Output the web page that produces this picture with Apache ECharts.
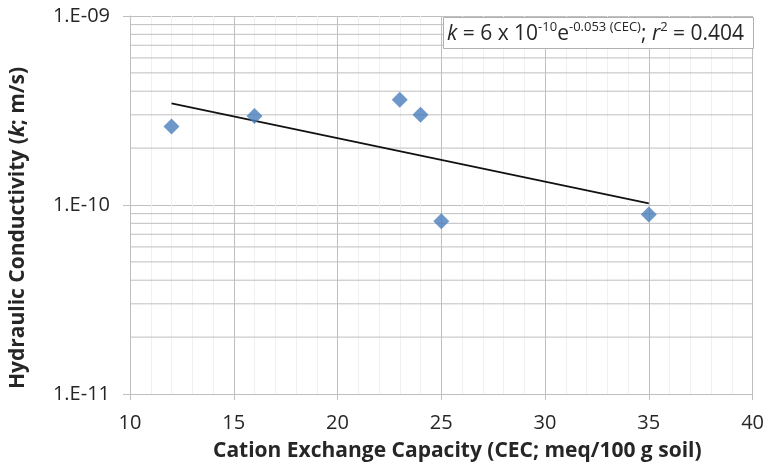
<!DOCTYPE html>
<html>
<head>
<meta charset="utf-8">
<script src="https://cdn.jsdelivr.net/npm/echarts@6/dist/echarts.min.js"></script>
<style>html,body{margin:0;padding:0;background:#fff}#c{width:767px;height:471px}</style>
</head>
<body>
<div id="c"></div>
<script>
var cecValues = [12, 16, 23, 24, 25, 35];
var kValues = [2.6e-10, 2.96e-10, 3.6e-10, 3.0e-10, 8.2e-11, 8.9e-11];
// Fitted exponential trend endpoints (k = 6e-10 * e^(-0.053 CEC)), as drawn
var trendX = [12, 35];
var trendY = [3.45e-10, 1.02e-10];
// Axis settings
var xTicks = [10, 15, 20, 25, 30, 35, 40];
var yMinorGrid = [2e-11, 3e-11, 4e-11, 5e-11, 6e-11, 7e-11, 8e-11, 9e-11,
                  2e-10, 3e-10, 4e-10, 5e-10, 6e-10, 7e-10, 8e-10, 9e-10];
var yLabels = {'1e-9': '1.E-09', '1e-10': '1.E-10', '1e-11': '1.E-11'};

var FONT = '"Open Sans", "DejaVu Sans", sans-serif';
var TXT = '#262626';
var GRID = '#bfbfbf';

var xMin = xTicks[0], xMax = xTicks[xTicks.length - 1];

// minor horizontal gridlines (log decades 2..9), drawn through the axes
var minorSeries = yMinorGrid.map(function (v) {
  return {
    type: 'line', silent: true, symbol: 'none', showSymbol: false,
    data: [[xMin, v], [xMax, v]],
    lineStyle: {color: GRID, width: 1},
    emphasis: {disabled: true},
    z: 1
  };
});

var chart = echarts.init(document.getElementById('c'), null, {renderer: 'canvas'});
chart.setOption({
  animation: false,
  backgroundColor: '#ffffff',
  tooltip: {show: false},
  grid: {left: 129, right: 14, top: 16, bottom: 77, containLabel: false},
  title: {
    left: 443, top: 17,
    padding: [4, 10, 4, 4],
    backgroundColor: '#ffffff',
    borderColor: '#b0b0b0',
    borderWidth: 1,
    text: '{i|k}{n| = 6 x 10}{s|-10}{n|e}{s|-0.053 (CEC)}{n|; }{i|r}{s|2}{n| = 0.404}',
    textStyle: {
      fontWeight: 'normal', fontFamily: FONT, fontSize: 21, color: TXT,
      rich: {
        n: {fontFamily: FONT, fontSize: 21, fontWeight: 'normal', color: TXT, lineHeight: 26, verticalAlign: 'middle'},
        i: {fontFamily: FONT, fontSize: 21, fontWeight: 'normal', fontStyle: 'italic', color: TXT, lineHeight: 26, verticalAlign: 'middle'},
        s: {fontFamily: FONT, fontSize: 13, fontWeight: 'normal', color: TXT, lineHeight: 14, verticalAlign: 'top'}
      }
    }
  },
  xAxis: {
    type: 'value', min: xMin, max: xMax, interval: 5,
    name: 'Cation Exchange Capacity (CEC; meq/100 g soil)',
    nameLocation: 'middle', nameGap: 47,
    nameTextStyle: {fontFamily: FONT, fontSize: 21, fontWeight: 'bold', color: TXT, padding: [0, 0, 0, 32]},
    axisLine: {show: true, lineStyle: {color: GRID, width: 1}},
    axisTick: {show: true, length: 6, lineStyle: {color: GRID}},
    axisLabel: {fontFamily: FONT, fontSize: 20, color: TXT, margin: 19},
    splitLine: {show: true, lineStyle: {color: GRID, width: 1}},
    minorTick: {show: false, splitNumber: 5},
    minorSplitLine: {show: true, lineStyle: {color: '#f0f0f0', width: 1}}
  },
  yAxis: {
    type: 'log', logBase: 10, min: 1e-11, max: 1e-9,
    name: 'Hydraulic Conductivity ({i|k}; m/s)',
    nameLocation: 'middle', nameGap: 101, nameRotate: 90,
    nameTextStyle: {
      fontFamily: FONT, fontSize: 21, fontWeight: 'bold', color: TXT, padding: [0, 46, 0, 0],
      rich: {i: {fontFamily: FONT, fontSize: 21, fontWeight: 'bold', fontStyle: 'italic', color: TXT}}
    },
    axisLine: {show: true, lineStyle: {color: GRID, width: 1}},
    axisTick: {show: true, length: 7, lineStyle: {color: GRID}},
    axisLabel: {
      fontFamily: FONT, fontSize: 20, color: TXT, margin: 20,
      formatter: function (v) {
        var e = Math.round(Math.log10(v));
        return yLabels['1e' + e] || '';
      }
    },
    splitLine: {show: true, lineStyle: {color: GRID, width: 1}}
  },
  series: minorSeries.concat([
    {
      type: 'line', name: 'trend',
      data: trendX.map(function (x, i) { return [x, trendY[i]]; }),
      showSymbol: false, symbol: 'none',
      lineStyle: {color: '#111111', width: 1.6},
      z: 3
    },
    {
      type: 'scatter', name: 'k',
      data: cecValues.map(function (x, i) { return [x, kValues[i]]; }),
      symbol: 'diamond', symbolSize: 16,
      itemStyle: {color: '#4a7ebb'},
      z: 4
    }
  ])
});
</script>
</body>
</html>
